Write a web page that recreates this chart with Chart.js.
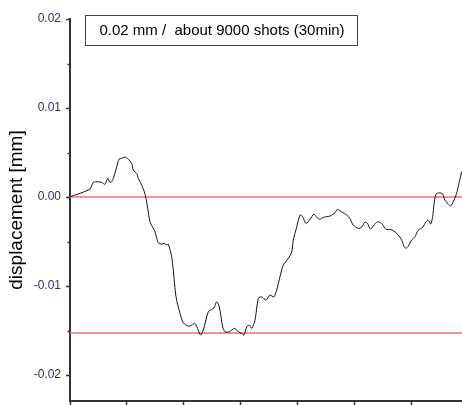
<!DOCTYPE html>
<html>
<head>
<meta charset="utf-8">
<script src="https://cdn.jsdelivr.net/npm/chart.js@4"></script>
<style>
  body { margin: 0; background: #fff; }
  #wrap { position: relative; width: 462px; height: 405px; }
</style>
</head>
<body>
<div id="wrap"><canvas id="myChart" width="462" height="405"></canvas></div>
<script>
// time axis (arbitrary units, one tick every 5) and displacement in mm
const times = [
  0, 1.75, 2.04, 2.48, 2.78, 3.07, 3.31, 3.45, 3.60, 3.80,
  4.10, 4.30, 4.54, 4.82, 5.11, 5.41, 5.55, 5.85, 5.99, 6.29,
  6.52, 6.64, 6.82, 7.02, 7.31, 7.46, 7.61, 7.75, 8.04, 8.25,
  8.48, 8.62, 8.92, 9.06, 9.30, 9.65, 9.94, 10.38, 10.68, 10.96,
  11.25, 11.46, 11.69, 12.13, 12.43, 12.63, 12.87, 13.10, 13.39, 13.60,
  13.97, 14.18, 14.47, 14.76, 15.06, 15.26, 15.50, 15.73, 15.94, 16.23,
  16.52, 16.82, 17.19, 17.54, 17.89, 18.13, 18.42, 18.71, 19.15, 19.45,
  19.59, 19.89, 20.18, 20.41, 20.70, 21.05, 21.40, 21.67, 21.93, 22.22,
  22.81, 23.25, 23.45, 23.83, 24.27, 24.56, 24.85, 25.29, 25.59, 25.88,
  26.10, 26.36, 26.67, 26.96, 27.34, 27.72, 28.13, 28.51, 28.80, 29.10,
  29.30, 29.47, 29.68, 29.97, 30.26, 30.55, 30.94, 31.23, 31.43, 31.64,
  31.82, 31.96, 32.11, 32.39, 32.69, 32.89, 33.18, 33.39, 33.62, 33.92,
  34.15, 34.36
];
const displacement = [
  0.00003, 0.00090, 0.00165, 0.00172, 0.00165, 0.00143, 0.00210, 0.00172, 0.00165, 0.00210,
  0.00340, 0.00427, 0.00435, 0.00449, 0.00427, 0.00379, 0.00303, 0.00266, 0.00210, 0.00135,
  0.00060, 0.00003, -0.00127, -0.00278, -0.00352, -0.00390, -0.00464, -0.00513, -0.00528, -0.00520,
  -0.00539, -0.00528, -0.00671, -0.00820, -0.01120, -0.01306, -0.01412, -0.01449, -0.01438, -0.01419,
  -0.01494, -0.01551, -0.01494, -0.01289, -0.01262, -0.01244, -0.01176, -0.01233, -0.01457, -0.01513,
  -0.01513, -0.01494, -0.01475, -0.01513, -0.01531, -0.01551, -0.01457, -0.01438, -0.01475, -0.01382,
  -0.01138, -0.01120, -0.01157, -0.01101, -0.01120, -0.01045, -0.00896, -0.00764, -0.00689, -0.00615,
  -0.00483, -0.00334, -0.00202, -0.00221, -0.00296, -0.00251, -0.00191, -0.00230, -0.00251, -0.00228,
  -0.00213, -0.00176, -0.00138, -0.00165, -0.00202, -0.00242, -0.00315, -0.00352, -0.00337, -0.00281,
  -0.00296, -0.00360, -0.00315, -0.00278, -0.00296, -0.00363, -0.00363, -0.00390, -0.00427, -0.00483,
  -0.00551, -0.00576, -0.00551, -0.00483, -0.00446, -0.00371, -0.00340, -0.00278, -0.00258, -0.00303,
  -0.00221, -0.00053, 0.00034, 0.00048, 0.00034, -0.00034, -0.00079, -0.00101, -0.00053, 0.00042,
  0.00172, 0.00284
];
// reference levels (red lines)
const refLevels = [0, -0.01525];
const minorTicks = [0.015, 0.005, -0.005, -0.015];
const noteText = '0.02 mm /  about 9000 shots (30min)';
const yTitle = 'displacement [mm]';

const X_MAX = 34.39;
const Y_MIN = -0.0229;
const Y_MAX = 0.02;

const series = times.map((t, i) => ({ x: t, y: displacement[i] }));
const levelSets = refLevels.map(v => ({
  data: [{ x: 0, y: v }, { x: X_MAX, y: v }],
  borderColor: 'rgb(240, 110, 110)',
  borderWidth: 1.5,
  pointRadius: 0,
  fill: false
}));

// minor ticks on the y axis and the boxed note at the top
const extras = {
  id: 'extras',
  afterDraw(chart) {
    const ctx = chart.ctx;
    const ys = chart.scales.y;
    ctx.save();
    ctx.strokeStyle = '#333';
    ctx.lineWidth = 1.5;
    minorTicks.forEach(v => {
      const py = Math.round(ys.getPixelForValue(v)) + 0.5;
      ctx.beginPath();
      ctx.moveTo(ys.right - 2.5, py);
      ctx.lineTo(ys.right, py);
      ctx.stroke();
    });
    ctx.strokeStyle = '#444';
    ctx.lineWidth = 1;
    ctx.fillStyle = '#fff';
    ctx.fillRect(85.5, 15.5, 272, 30);
    ctx.strokeRect(85.5, 15.5, 272, 30);
    ctx.fillStyle = '#000';
    ctx.font = '15px "Liberation Sans", Arial, sans-serif';
    ctx.textAlign = 'center';
    ctx.textBaseline = 'middle';
    ctx.fillText(noteText, 222, 31);
    ctx.restore();
  }
};

function createChart() {
  const ctx = document.getElementById('myChart').getContext('2d');
  return new Chart(ctx, {
    type: 'line',
    data: {
      datasets: [{
        data: series,
        borderColor: '#111',
        borderWidth: 1,
        pointRadius: 0,
        tension: 0.25,
        fill: false
      }, ...levelSets]
    },
    options: {
      responsive: false,
      animation: false,
      devicePixelRatio: 1,
      layout: { padding: { top: 19, right: 0, bottom: 0, left: 0 } },
      plugins: { legend: { display: false }, tooltip: { enabled: false } },
      scales: {
        x: {
          type: 'linear',
          min: 0,
          max: X_MAX,
          grid: { drawOnChartArea: false, tickLength: 4, tickColor: '#333', tickWidth: 1.5 },
          border: { color: '#333', width: 2 },
          ticks: { stepSize: 5, includeBounds: false, callback: () => '' },
          afterFit(scale) { scale.height = 4; scale.paddingLeft = 0; scale.paddingRight = 0; }
        },
        y: {
          min: Y_MIN,
          max: Y_MAX,
          grid: {
            drawOnChartArea: false,
            tickLength: 4,
            tickWidth: 1.5,
            tickColor: c => (Math.abs(Math.round(c.tick.value * 100) - c.tick.value * 100) < 1e-6 ? '#333' : 'rgba(0,0,0,0)')
          },
          border: { color: '#333', width: 2 },
          ticks: {
            stepSize: 0.005,
            includeBounds: false,
            color: '#2e2e66',
            padding: 5,
            font: { family: '"Liberation Sans", Arial, sans-serif', size: 12 },
            callback: v => (Math.abs(Math.round(v * 100) - v * 100) < 1e-6 ? v.toFixed(2) : '')
          },
          title: {
            display: true,
            text: yTitle,
            color: '#000',
            padding: { top: 5, bottom: 0 },
            font: { family: '"Liberation Sans", Arial, sans-serif', size: 19 }
          },
          afterFit(scale) { scale.width = 70; scale.paddingTop = 0; scale.paddingBottom = 0; }
        }
      }
    },
    plugins: [extras]
  });
}

createChart();
</script>
</body>
</html>
